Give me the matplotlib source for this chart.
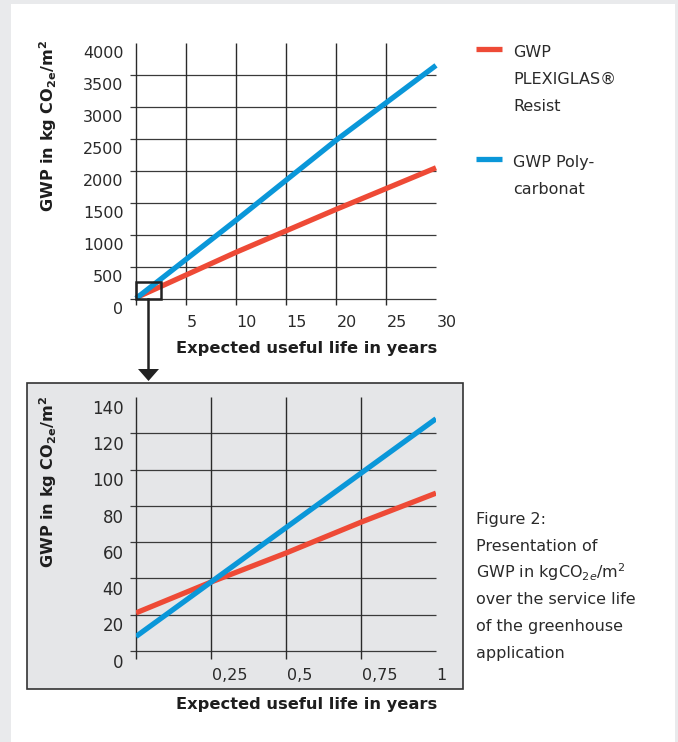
import matplotlib.pyplot as plt
from matplotlib.patches import Rectangle, Polygon
from matplotlib.lines import Line2D

# Daten (oben: 0-30 Jahre, unten: 0-1 Jahr)
years_long = [0, 10, 20, 30]
gwp_plexi_long = [20, 730, 1400, 2050]
gwp_pc_long = [8, 1230, 2480, 3650]

years_short = [0, 0.25, 0.5, 0.75, 1]
gwp_plexi_short = [21, 38, 54, 71, 87]
gwp_pc_short = [8, 38, 68, 98, 128]

yticks_long = [0, 500, 1000, 1500, 2000, 2500, 3000, 3500, 4000]
xticks_long = [5, 10, 15, 20, 25, 30]
yticks_short = [0, 20, 40, 60, 80, 100, 120, 140]
xticks_short = [0.25, 0.5, 0.75, 1]
xlabels_short = ['0,25', '0,5', '0,75', '1']

legend_labels = [['GWP', 'PLEXIGLAS®', 'Resist'], ['GWP Poly-', 'carbonat']]
caption = ['Figure 2:', 'Presentation of', 'GWP in kgCO$_{2e}$/m$^2$',
           'over the service life', 'of the greenhouse', 'application']

RED = '#ee4a36'
BLUE = '#0a97d9'
GRID = '#2a2a2a'
TXT = '#2a2a2a'

plt.rcParams['font.family'] = ['DejaVu Sans']

W, H = 678, 742
fig = plt.figure(figsize=(W / 100, H / 100), dpi=100)
fig.patch.set_facecolor('#e9eaec')


def fx(px):
    return px / W


def fy(py):
    return 1 - py / H


# weisses Panel und grauer Kasten
fig.patches.append(Rectangle((fx(11), 0), fx(675) - fx(11), fy(4), transform=fig.transFigure,
                             facecolor='white', edgecolor='none', zorder=-3))
fig.patches.append(Rectangle((fx(27), fy(689)), fx(463) - fx(27), fy(383) - fy(689),
                             transform=fig.transFigure, facecolor='#e5e6e8',
                             edgecolor='#333333', lw=1.2, zorder=-2))


def setup(ax, xmax, ymax, hgrid, vgrid, dx, dy):
    ax.set_xlim(0, xmax)
    ax.set_ylim(0, ymax)
    ax.axis('off')
    ax.patch.set_visible(False)
    ax.hlines(hgrid, -dx, xmax, color='#3a3a3a', lw=0.9, clip_on=False, zorder=1)
    ax.vlines(vgrid, -dy, ymax, color=GRID, lw=1.0, clip_on=False, zorder=1)


# oberes Diagramm
ax1 = fig.add_axes([fx(136), fy(299), fx(436) - fx(136), fy(43) - fy(299)])
setup(ax1, 30, 4000, yticks_long[:-1], [0] + xticks_long[:-1], 0.6, 100)
ax1.plot(years_long, gwp_plexi_long, color=RED, lw=3.8, solid_capstyle='butt', zorder=3,
         clip_on=False)
ax1.plot(years_long, gwp_pc_long, color=BLUE, lw=3.8, solid_capstyle='butt', zorder=3,
         clip_on=False)
for v in yticks_long:
    ax1.annotate(str(v), xy=(0, v), xytext=(-9, -2), textcoords='offset points',
                 ha='right', va='top', fontsize=11.5, color=TXT, annotation_clip=False)
for v in xticks_long:
    ax1.annotate(str(v), xy=(v, 0), xytext=(0.5, -11.5), textcoords='offset points',
                 ha='left', va='top', fontsize=11.5, color=TXT, annotation_clip=False)
# Ausschnitt-Rahmen
ax1.add_patch(Rectangle((-0.05, 0), 2.55, 270, facecolor='none', edgecolor='#222222',
                        lw=1.8, zorder=4, clip_on=False))

ylab = r'GWP in kg CO$_{\mathbf{2e}}$/m$^{\mathbf{2}}$'
fig.text(fx(48), fy(126), ylab, rotation=90, ha='center', va='center',
         fontsize=11.6, fontweight='bold', color='#1e1e1e')
fig.text(fx(307), fy(349), 'Expected useful life in years', ha='center', va='center',
         fontsize=11.7, fontweight='bold', color='#1e1e1e')

# Pfeil
fig.lines.append(Line2D([fx(148), fx(148)], [fy(299), fy(370)], transform=fig.transFigure,
                        color='#222222', lw=1.8))
fig.patches.append(Polygon([(fx(138), fy(369)), (fx(159), fy(369)), (fx(148.5), fy(381))],
                           closed=True, transform=fig.transFigure, facecolor='#222222',
                           edgecolor='none'))

# Legende
for lines, col, ypx in zip(legend_labels, [RED, BLUE], [49, 159]):
    fig.lines.append(Line2D([fx(476), fx(502)], [fy(ypx), fy(ypx)], transform=fig.transFigure,
                            color=col, lw=3.8, solid_capstyle='butt'))
    for i, s in enumerate(lines):
        fig.text(fx(513), fy(ypx + 8 + i * 27), s, ha='left', va='baseline', fontsize=11.5,
                 color=TXT)

# unteres Diagramm
ax2 = fig.add_axes([fx(136), fy(651), fx(436) - fx(136), fy(397) - fy(651)])
setup(ax2, 1, 140, yticks_short[:-1], [0] + xticks_short[:-1], 0.02, 4.4)
ax2.plot(years_short, gwp_plexi_short, color=RED, lw=3.8, solid_capstyle='butt', zorder=3)
ax2.plot(years_short, gwp_pc_short, color=BLUE, lw=3.8, solid_capstyle='butt', zorder=3)
for v in yticks_short:
    ax2.annotate(str(v), xy=(0, v), xytext=(-9, -2), textcoords='offset points',
                 ha='right', va='top', fontsize=12, color=TXT, annotation_clip=False)
for v, s in zip(xticks_short, xlabels_short):
    ax2.annotate(s, xy=(v, 0), xytext=(0.5, -12), textcoords='offset points',
                 ha='left', va='top', fontsize=11.5, color=TXT, annotation_clip=False)

fig.text(fx(48), fy(482), ylab, rotation=90, ha='center', va='center',
         fontsize=11.6, fontweight='bold', color='#1e1e1e')
fig.text(fx(307), fy(704), 'Expected useful life in years', ha='center', va='center',
         fontsize=11.7, fontweight='bold', color='#1e1e1e')

# Bildunterschrift
for i, s in enumerate(caption):
    fig.text(fx(476), fy(524 + i * 26.8), s, ha='left', va='baseline', fontsize=11.5,
             color=TXT)

fig.savefig('out.png', dpi=100, facecolor=fig.get_facecolor())
